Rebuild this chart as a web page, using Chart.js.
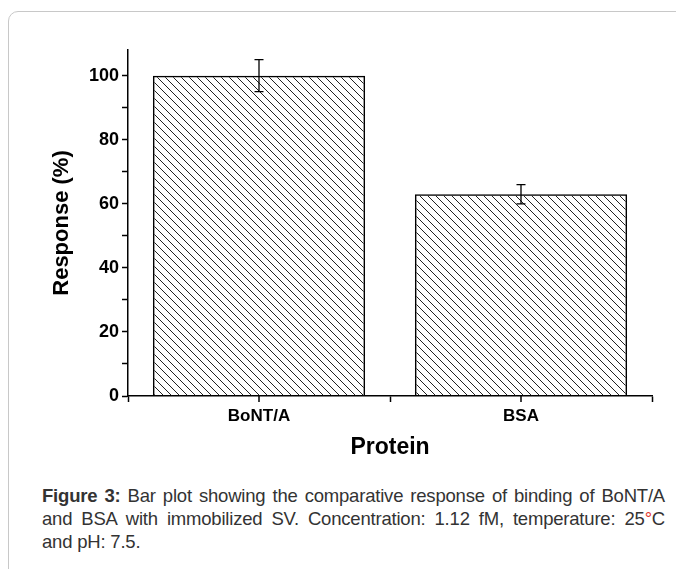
<!DOCTYPE html>
<html>
<head>
<meta charset="utf-8">
<script src="https://cdn.jsdelivr.net/npm/chart.js@4.4.0/dist/chart.umd.min.js"></script>
<style>
  html, body { margin: 0; padding: 0; background: #fff; }
  body { width: 676px; height: 569px; position: relative; overflow: hidden; font-family: "Liberation Sans", Arial, sans-serif; }
  #frame { position: absolute; left: 8px; top: 11px; width: 720px; height: 620px; border: 1px solid #c8c8c8; border-top-left-radius: 10px; }
  #chart { position: absolute; left: 0; top: 0; }
  #caption { position: absolute; left: 42px; top: 484px; width: 623px; font-size: 18.5px; line-height: 23px; color: #333; letter-spacing: -0.2px; }
  #caption div { text-align: justify; text-align-last: justify; }
  #caption div.last { text-align-last: left; }
  .deg { color: #e0362c; }
</style>
</head>
<body>
<div id="frame"></div>
<canvas id="chart" width="676" height="470"></canvas>
<div id="caption">
  <div><b>Figure 3:</b> Bar plot showing the comparative response of binding of BoNT/A</div>
  <div>and BSA with immobilized SV. Concentration: 1.12 fM, temperature: 25<span class="deg">°</span>C</div>
  <div class="last">and pH: 7.5.</div>
</div>
<script>
// data
const categories = ['BoNT/A', 'BSA'];
const responses = [100, 63];
const errors = [5, 3];
const yLabelStep = 20;

// hatch pattern \\\\
function makeHatch() {
    const size = 8;
    const c = document.createElement('canvas');
    c.width = size; c.height = size;
    const g = c.getContext('2d');
    g.strokeStyle = '#222';
    g.lineWidth = 1;
    g.beginPath();
    g.moveTo(0, 0); g.lineTo(size, size);
    g.moveTo(-size, 0); g.lineTo(size, 2 * size);
    g.moveTo(0, -size); g.lineTo(2 * size, size);
    g.stroke();
    return g.createPattern(c, 'repeat');
}

const hatch = makeHatch();

// error bars + center ticks on the x axis
const extras = {
    id: 'extras',
    afterDatasetsDraw(chart) {
        const ctx = chart.ctx;
        const x = chart.scales.x, y = chart.scales.y;
        ctx.save();
        ctx.strokeStyle = '#000';
        ctx.lineWidth = 1.3;
        responses.forEach((v, i) => {
            const px = x.getPixelForValue(i);
            const top = y.getPixelForValue(v + errors[i]);
            const bot = y.getPixelForValue(v - errors[i]);
            ctx.beginPath();
            ctx.moveTo(px, top); ctx.lineTo(px, bot);
            ctx.moveTo(px - 4.5, top); ctx.lineTo(px + 4.5, top);
            ctx.moveTo(px - 4.5, bot); ctx.lineTo(px + 4.5, bot);
            ctx.stroke();
        });
        // ticks at category centres
        ctx.lineWidth = 1.5;
        const b = chart.chartArea.bottom;
        categories.forEach((c, i) => {
            const px = Math.round(x.getPixelForValue(i));
            ctx.beginPath();
            ctx.moveTo(px, b); ctx.lineTo(px, b + 6);
            ctx.stroke();
        });
        ctx.restore();
    }
};

new Chart(document.getElementById('chart'), {
    type: 'bar',
    data: {
        labels: categories,
        datasets: [{
            data: responses,
            backgroundColor: hatch,
            borderColor: '#000',
            borderWidth: 1.5,
            barPercentage: 0.81,
            categoryPercentage: 1
        }]
    },
    options: {
        responsive: false,
        animation: false,
        layout: { padding: { top: 50, right: 24, left: 45, bottom: 5 } },
        plugins: {
            legend: { display: false },
            tooltip: { enabled: false }
        },
        scales: {
            x: {
                grid: { drawOnChartArea: false, tickLength: 6, tickColor: '#000', tickWidth: 1.5 },
                border: { color: '#000', width: 1.5 },
                ticks: { color: '#000', font: { family: 'Liberation Sans', size: 17, weight: 'bold' }, padding: 4 },
                title: { display: true, text: 'Protein', color: '#000', font: { family: 'Liberation Sans', size: 23, weight: 'bold' } },
                afterFit(s) { s.height = 69; }
            },
            y: {
                min: 0,
                max: 108,
                grid: { drawOnChartArea: false, tickLength: 6, tickColor: '#000', tickWidth: 1.5 },
                border: { color: '#000', width: 1.5 },
                ticks: {
                    stepSize: 10,
                    includeBounds: false,
                    padding: 3,
                    color: '#000',
                    font: { family: 'Liberation Sans', size: 18, weight: 'bold' },
                    callback: (v) => (v % yLabelStep === 0 ? v : '')
                },
                title: { display: true, text: 'Response (%)', color: '#000', font: { family: 'Liberation Sans', size: 22, weight: 'bold' } },
                afterFit(s) { s.width = 83; }
            }
        }
    },
    plugins: [extras]
});
</script>
</body>
</html>
